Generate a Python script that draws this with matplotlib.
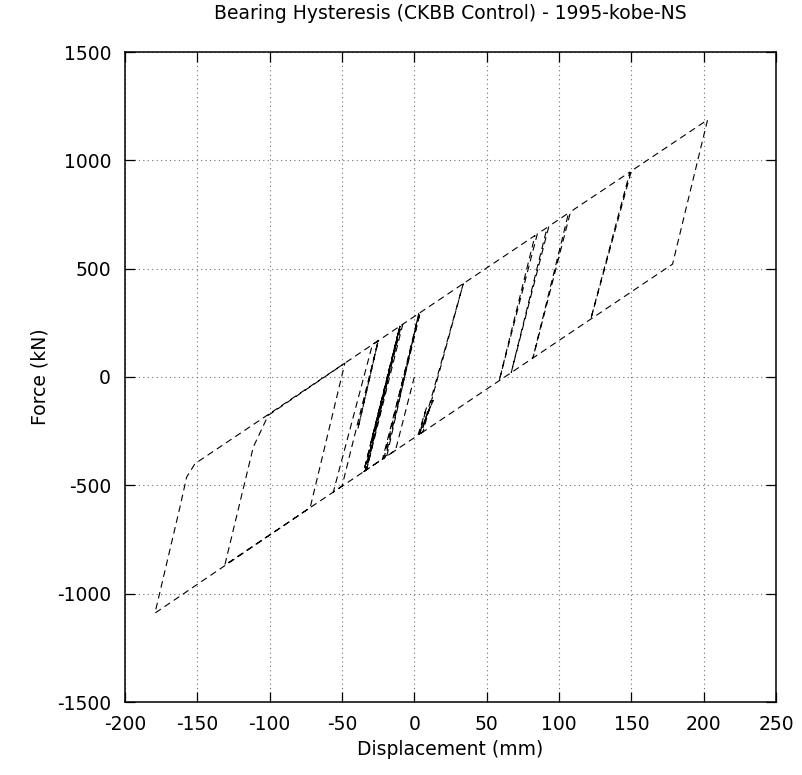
import matplotlib
matplotlib.use("Agg")
import matplotlib.pyplot as plt

plt.rcParams['font.family'] = ['DejaVu Sans']
plt.rcParams['axes.unicode_minus'] = False

# Vertices of the bearing force-displacement path (mm, kN)
desplazamiento = [
    0, -13, -22, 4, -20, -35, -10, -34, -9, -8, -33, -56, -29, -25, -39, -25,
    -50, -131, -111.3, -101, -48, -72, -179.3, -162, -157.4, -151.6,
    83.4, 58.7, 85, 91.8, 67, 93, 106.6, 82, 108, 149, 122, 150, 202.7,
    178.5, 5, 33.8, 6, 3, 13, 3.5, 8.5, 2.5, -19, 3, -21, -35, -10, -33, -12,
    -30,
]
fuerza = [
    0, -338, -379, 297, -370, -437, 234, -433, 238, 243, -428, -531, 149, 167,
    -239, 167, -504, -868, -323, -177, 64, -603, -1090, -600, -462, -400,
    653, -16, 660, 690, 21, 696, 757, 88, 763, 946, 268, 951, 1187,
    521, -258, 430, -253, -267, -108, -265, -139, -269, -365, 292, -374, -437,
    234, -428, 170, -300,
]

xticks = list(range(-200, 251, 50))
yticks = list(range(-1500, 1501, 500))

fig = plt.figure(figsize=(8.03, 7.75), dpi=100)
ax = fig.add_axes([125 / 803, 1 - 702 / 775, 651 / 803, 650 / 775])

ax.plot(desplazamiento, fuerza, color='black', lw=0.8,
        linestyle=(0, (6, 4)))

ax.set_xlim(-200, 250)
ax.set_ylim(-1500, 1500)
ax.set_xticks(xticks)
ax.set_yticks(yticks)
ax.set_xticklabels([str(v) for v in xticks])
ax.set_yticklabels([str(v) for v in yticks])
ax.tick_params(direction='in', length=7.5, width=0.9, top=True, right=True,
               labelsize=13.5)
ax.tick_params(axis='x', pad=9)
ax.tick_params(axis='y', pad=10)
ax.grid(True, color='#707070', linestyle=(0, (1, 3)), lw=0.8)
for s in ax.spines.values():
    s.set_linewidth(1.1)

ax.set_title("Bearing Hysteresis (CKBB Control) - 1995-kobe-NS",
             fontsize=13.5, pad=24)
ax.set_xlabel("Displacement (mm)", fontsize=13.5, labelpad=5)
ax.set_ylabel("Force (kN)", fontsize=13.5)
ax.yaxis.set_label_coords(-75 / 651, 0.5)

plt.savefig("out.png", dpi=100)
